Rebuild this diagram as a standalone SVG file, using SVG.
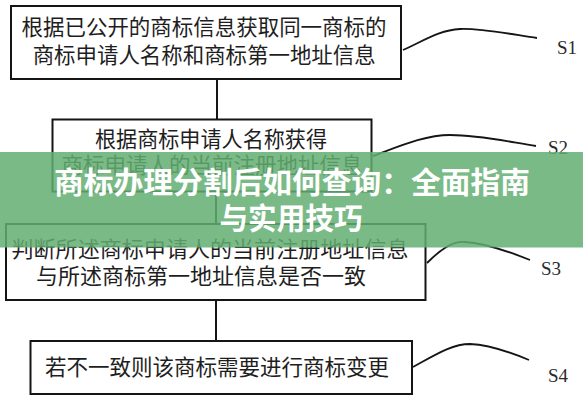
<svg xmlns="http://www.w3.org/2000/svg" width="583" height="400" viewBox="0 0 583 400">
<style>
.box{fill:#fff;stroke:#151515;stroke-width:2}
.t{font-family:"Noto Sans CJK SC","Noto Sans CJK JP",sans-serif;font-size:21.5px;fill:#1e1e1e}
.s{font-family:"Liberation Serif",serif;font-size:19px;fill:#2a2a2a}
.ln{fill:none;stroke:#151515;stroke-width:2}
.lead{fill:none;stroke:#151515;stroke-width:1.8}
.title{font-family:"Noto Sans CJK SC",sans-serif;font-weight:bold;font-size:29.5px;fill:#fff;text-anchor:middle}
</style>
<rect width="583" height="400" fill="#fff"/>
<g id="connectors">
<line class="ln" x1="217" y1="79" x2="217" y2="119"/>
<line class="ln" x1="216" y1="192" x2="216" y2="224"/>
<line class="ln" x1="216" y1="300" x2="216" y2="341"/>
<path class="lead" d="M403,50 C425,40 440,30 460,29 C480,28 510,34 537,38"/>
<path class="lead" d="M373,156 C400,146 425,135 450,135 C480,135 510,142 536,146"/>
<path class="lead" d="M427,263 C440,250 452,241 465,242 C485,243 510,252 530,260"/>
<path class="lead" d="M413,367 C435,355 452,344 470,344 C490,345 510,352 529,360"/>
</g>
<g id="S1">
<rect class="box" x="11" y="6" width="390" height="73"/>
<text class="t" x="21.5" y="35" textLength="365" lengthAdjust="spacingAndGlyphs">根据已公开的商标信息获取同一商标的</text>
<text class="t" x="32.7" y="62.5" textLength="343" lengthAdjust="spacingAndGlyphs">商标申请人名称和商标第一地址信息</text>
<text class="s" x="557" y="54">S1</text>
</g>
<g id="S2">
<rect class="box" x="52.5" y="119.5" width="319" height="72"/>
<text class="t" x="95" y="147" textLength="232" lengthAdjust="spacingAndGlyphs">根据商标申请人名称获得</text>
<text class="t" x="61.5" y="173" textLength="301" lengthAdjust="spacingAndGlyphs">商标申请人的当前注册地址信息</text>
<text class="s" x="548" y="154">S2</text>
</g>
<g id="S3">
<rect class="box" x="6" y="224" width="419.5" height="76"/>
<text class="t" x="11.5" y="257" textLength="397" lengthAdjust="spacingAndGlyphs">判断所述商标申请人的当前注册地址信息</text>
<text class="t" x="36" y="284" textLength="330" lengthAdjust="spacingAndGlyphs">与所述商标第一地址信息是否一致</text>
<text class="s" x="541" y="275">S3</text>
</g>
<g id="S4">
<rect class="box" x="30.5" y="341" width="381.5" height="53"/>
<text class="t" x="45" y="375" textLength="344" lengthAdjust="spacingAndGlyphs">若不一致则该商标需要进行商标变更</text>
<text class="s" x="548" y="382">S4</text>
</g>
<g id="banner">
<rect x="0" y="152" width="583" height="95.5" fill="rgb(99,174,113)" fill-opacity="0.85"/>
<text class="title" x="292" y="193" textLength="476" lengthAdjust="spacingAndGlyphs">商标办理分割后如何查询：全面指南</text>
<text class="title" x="291" y="229" textLength="143" lengthAdjust="spacingAndGlyphs">与实用技巧</text>
</g>
</svg>
